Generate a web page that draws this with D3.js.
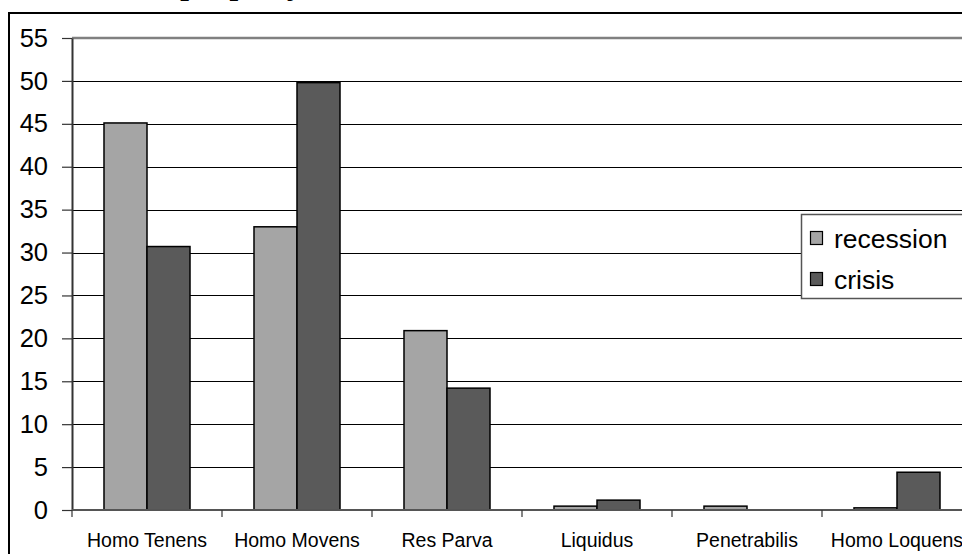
<!DOCTYPE html>
<html>
<head>
<meta charset="utf-8">
<script src="https://cdn.jsdelivr.net/npm/d3@7"></script>
<style>
  html, body { margin: 0; padding: 0; background: #fff; overflow: hidden; }
  svg { display: block; }
</style>
</head>
<body>
<svg id="chart" width="962" height="554"></svg>
<script>
// Categories and series
const categories = ["Homo Tenens", "Homo Movens", "Res Parva", "Liquidus", "Penetrabilis", "Homo Loquens"];
const seriesNames = ["recession", "crisis"];
const recession = [45.1, 33.0, 20.9, 0.45, 0.45, 0.25];
const crisis = [30.7, 49.8, 14.2, 1.15, 0, 4.4];
const yTicks = [0, 5, 10, 15, 20, 25, 30, 35, 40, 45, 50, 55];
const seriesColors = ["#a5a5a5", "#5a5a5a"];

const rows = categories.map((c, i) => ({ category: c, values: [recession[i], crisis[i]] }));

const svg = d3.select("#chart");

// Layout
const plot = { left: 72, right: 972, top: 38, bottom: 510 };

const x0 = d3.scaleBand().domain(categories).range([plot.left, plot.right]).padding(0);
const x1 = d3.scaleBand().domain(seriesNames).range([0, x0.bandwidth()])
  .paddingInner(0).paddingOuter(0.744);
const y = d3.scaleLinear().domain([0, 55]).range([plot.bottom, plot.top]);
const color = d3.scaleOrdinal().domain(seriesNames).range(seriesColors);

// Title line above the frame (only its lower edge falls inside the page)
svg.append("text")
  .attr("x", 180).attr("y", -7)
  .attr("font-family", "'Liberation Serif', 'Times New Roman', serif")
  .attr("font-size", 37)
  .attr("fill", "#000")
  .text("property");

// Outer chart frame
svg.append("rect")
  .attr("x", 9).attr("y", 13)
  .attr("width", 1000).attr("height", 600)
  .attr("fill", "none").attr("stroke", "#000").attr("stroke-width", 2);

// Horizontal gridlines
svg.append("g")
  .selectAll("line")
  .data(yTicks.filter(t => t > 0 && t < 55))
  .join("line")
  .attr("x1", plot.left).attr("x2", plot.right)
  .attr("y1", d => Math.round(y(d)) + 0.5).attr("y2", d => Math.round(y(d)) + 0.5)
  .attr("stroke", "#000").attr("stroke-width", 1);

// Plot area top border
svg.append("line")
  .attr("x1", plot.left).attr("x2", plot.right)
  .attr("y1", y(55)).attr("y2", y(55))
  .attr("stroke", "#808080").attr("stroke-width", 2.5);

// Bars
const groups = svg.append("g").selectAll("g")
  .data(rows)
  .join("g")
  .attr("transform", d => `translate(${x0(d.category)},0)`);

groups.selectAll("rect")
  .data(d => seriesNames.map((s, i) => ({ key: s, value: d.values[i] })))
  .join("rect")
  .attr("x", d => x1(d.key))
  .attr("y", d => y(d.value))
  .attr("width", x1.bandwidth())
  .attr("height", d => y(0) - y(d.value))
  .attr("fill", d => color(d.key))
  .attr("stroke", "#000")
  .attr("stroke-width", 1.5)
  .attr("display", d => d.value > 0 ? null : "none");

// Y axis
const yAxis = d3.axisLeft(y).tickValues(yTicks).tickSize(10).tickPadding(14).tickSizeOuter(0);
const gy = svg.append("g")
  .attr("transform", `translate(${plot.left},0)`)
  .call(yAxis);
gy.select(".domain").attr("stroke", "#333").attr("stroke-width", 2);
gy.selectAll(".tick line").attr("stroke", "#333").attr("stroke-width", 1.2);
gy.selectAll(".tick text")
  .attr("font-family", "'Liberation Sans', Arial, sans-serif")
  .attr("font-size", 25.5)
  .attr("fill", "#000");

// X axis baseline with category boundary ticks
svg.append("line")
  .attr("x1", plot.left).attr("x2", plot.right)
  .attr("y1", y(0)).attr("y2", y(0))
  .attr("stroke", "#555").attr("stroke-width", 2);

svg.append("g").selectAll("line")
  .data(categories)
  .join("line")
  .attr("x1", d => x0(d)).attr("x2", d => x0(d))
  .attr("y1", y(0)).attr("y2", y(0) + 7)
  .attr("stroke", "#333").attr("stroke-width", 1.2);

svg.append("g").selectAll("text")
  .data(categories)
  .join("text")
  .attr("x", d => x0(d) + x0.bandwidth() / 2)
  .attr("y", 547)
  .attr("text-anchor", "middle")
  .attr("font-family", "'Liberation Sans', Arial, sans-serif")
  .attr("font-size", 19.5)
  .attr("fill", "#000")
  .text(d => d);

// Legend
const legend = svg.append("g").attr("transform", "translate(801,214)");
legend.append("rect")
  .attr("x", 0.5).attr("y", 0.5)
  .attr("width", 200).attr("height", 84)
  .attr("fill", "#fff").attr("stroke", "#555").attr("stroke-width", 1.5);

const items = legend.selectAll("g.item")
  .data(seriesNames)
  .join("g")
  .attr("class", "item")
  .attr("transform", (d, i) => `translate(0,${24 + i * 41})`);

items.append("rect")
  .attr("x", 9.5).attr("y", -6.5)
  .attr("width", 12).attr("height", 13)
  .attr("fill", d => color(d))
  .attr("stroke", "#000").attr("stroke-width", 1.2);

items.append("text")
  .attr("x", 33).attr("y", 9.5)
  .attr("font-family", "'Liberation Sans', Arial, sans-serif")
  .attr("font-size", 26.5)
  .attr("fill", "#000")
  .text(d => d);
</script>
</body>
</html>
